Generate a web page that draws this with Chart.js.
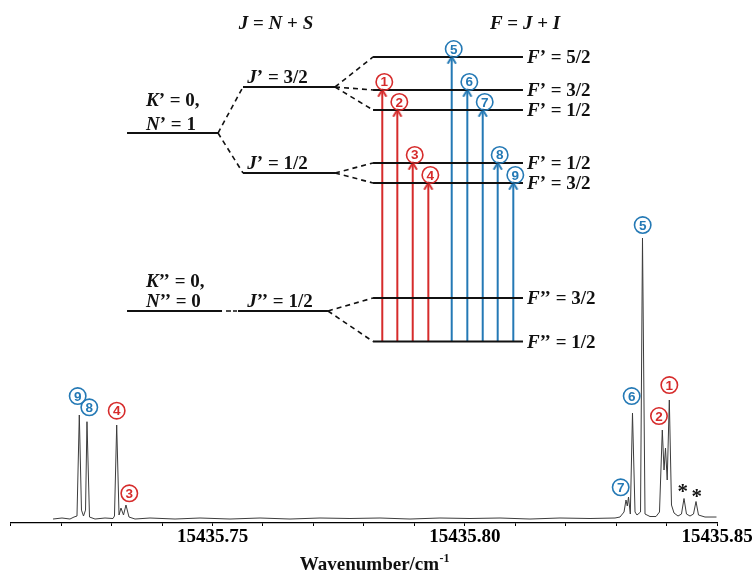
<!DOCTYPE html>
<html><head><meta charset="utf-8">
<script src="https://cdn.jsdelivr.net/npm/chart.js@4.4.1/dist/chart.umd.min.js"></script>
<style>html,body{margin:0;padding:0;background:#fff}</style>
</head><body>
<canvas id="c" width="756" height="575"></canvas>
<script>
// ---------------- DATA ----------------
// Spectrum (wavenumber / cm-1, relative intensity; strongest line = 100)
const wavenumbers = [
  15435.71839,15435.72017,15435.72175,15435.72255,15435.72314,15435.72360,15435.72403,15435.72443,15435.72483,15435.72512,15435.72562,
  15435.72671,15435.72869,15435.73028,15435.73057,15435.73101,15435.73147,15435.73186,15435.73236,15435.73285,15435.73345,15435.73464,
  15435.73761,15435.74257,15435.74752,15435.75347,15435.75942,15435.76536,15435.77131,15435.77725,15435.78320,15435.78915,15435.79509,
  15435.80104,15435.80699,15435.81293,15435.81888,15435.82483,15435.82978,15435.83077,
  15435.83157,15435.83196,15435.83222,15435.83246,15435.83282,15435.83325,15435.83375,15435.83414,15435.83484,15435.83523,15435.83573,
  15435.83672,15435.83791,15435.83860,15435.83916,15435.83950,15435.83979,15435.84013,15435.84055,15435.84098,15435.84148,15435.84227,
  15435.84296,15435.84346,15435.84395,15435.84465,15435.84534,15435.84584,15435.84633,15435.84762,15435.84990];
const intensities = [
  -0.18,0.18,-0.18,0.53,0.89,36.90,3.0,0.89,3.0,34.51,0.53,
  -0.18,0.18,0,0.89,33.33,1.25,3.74,1.25,4.81,0.53,-0.18,
  0.18,-0.18,0.18,-0.18,0.18,-0.18,0.18,0,0.18,-0.18,0.18,
  0,0.18,-0.18,0.18,0,0.18,0.53,
  2.32,6.60,4.46,7.66,1.60,37.61,2.32,1.25,2.32,100,1.60,
  0.71,0.71,2.32,31.55,17.29,25.13,13.73,42.25,4.81,1.96,0.89,
  1.60,7.13,1.60,0.89,1.60,6.06,1.25,0.53,0.53];

// Line assignments shown on the spectrum
const specLabelNum = [9, 8, 4, 3, 5, 6, 1, 2, 7];
const specLabelWn  = [15435.72328,15435.72558,15435.73101,15435.73351,15435.83527,15435.83309,15435.84055,15435.83850,15435.83091];
const specLabelInt = [43.67,39.64,38.43,8.98,104.63,43.67,47.59,36.54,11.12];
const starWn  = [15435.84320, 15435.84598];
const starInt = [10.77, 8.98];

// Axis
const xMin = 15435.71, xMax = 15435.85, xStep = 0.01;
const tickLabels = ['15435.75', '15435.80', '15435.85'];

// Energy level diagram (schematic energies, arbitrary units)
const nLabelsTop    = ['{K}’ = 0,', '{K}’’ = 0,'];
const nLabelsBottom = ['{N}’ = 1',  '{N}’’ = 0'];
const nEnergies     = [76.02, 41.33];
const jLabels   = ['{J}’ = 3/2', '{J}’ = 1/2', '{J}’’ = 1/2'];
const jEnergies = [84.99, 68.23, 41.33];
const upperLabels   = ['{F}’ = 5/2', '{F}’ = 3/2', '{F}’ = 1/2', '{F}’ = 1/2', '{F}’ = 3/2'];
const upperEnergies = [90.84, 84.41, 80.51, 70.18, 66.28];
const upperParentJ  = [0, 0, 0, 1, 1];
const lowerLabels   = ['{F}’’ = 3/2', '{F}’’ = 1/2'];
const lowerEnergies = [43.86, 35.38];
const transitionNum   = [1, 2, 3, 4, 5, 6, 7, 8, 9];
const transitionUpper = [1, 2, 3, 4, 0, 1, 2, 3, 4];
const transitionLower = [1, 1, 1, 1, 1, 1, 1, 1, 1];

// ---------------- LAYOUT / STYLE ----------------
const RED = '#d62b2b', BLUE = '#2479b5', INK = '#111';
const SERIF = '"Liberation Serif","Times New Roman",serif';
const colN  = [16.47, 29.35];   // N' level
const colN0 = [16.47, 29.92];   // N'' level
const gapDash = [30.48, 32.04];
const colJ  = [32.89, 45.92];   // J' levels
const colJ0 = [32.18, 44.92];   // J'' level
const colF  = [51.30, 72.53];   // F levels
const transitionPos = [52.61,54.74,56.92,59.13,62.44,64.65,66.83,68.95,71.16];
const colorOf = n => (n <= 4 ? RED : BLUE);

function seg(x1, y1, x2, y2, extra) {
  return Object.assign({
    data: [{x: x1, y: y1}, {x: x2, y: y2}],
    xAxisID: 'dx', yAxisID: 'dy',
    borderColor: INK, borderWidth: 1.8, pointRadius: 0, fill: false, tension: 0
  }, extra || {});
}
function chevron(color) {
  const c = document.createElement('canvas');
  c.width = 12; c.height = 16;
  const g = c.getContext('2d');
  g.strokeStyle = color; g.lineWidth = 2; g.lineCap = 'round'; g.lineJoin = 'miter';
  g.beginPath(); g.moveTo(2.3, 14); g.lineTo(6, 8); g.lineTo(9.7, 14); g.stroke();
  return c;
}
const heads = {r: chevron(RED), b: chevron(BLUE)};

const datasets = [];
datasets.push({
  data: wavenumbers.map((w, i) => ({x: w, y: intensities[i]})),
  xAxisID: 'x', yAxisID: 'y', borderColor: '#3c3c3c', borderWidth: 1, pointRadius: 0, tension: 0, fill: false
});
const dash = {borderDash: [5, 4], borderWidth: 1.6};
// N levels
datasets.push(seg(colN[0], nEnergies[0], colN[1], nEnergies[0]));
datasets.push(seg(colN0[0], nEnergies[1], colN0[1], nEnergies[1]));
datasets.push(seg(gapDash[0], nEnergies[1], gapDash[1], nEnergies[1], {borderDash: [5, 2], borderWidth: 1.6}));
// J levels
datasets.push(seg(colJ[0], jEnergies[0], colJ[1], jEnergies[0]));
datasets.push(seg(colJ[0], jEnergies[1], colJ[1], jEnergies[1]));
datasets.push(seg(colJ0[0], jEnergies[2], colJ0[1], jEnergies[2]));
datasets.push(seg(colN[1], nEnergies[0], colJ[0], jEnergies[0], dash));
datasets.push(seg(colN[1], nEnergies[0], colJ[0], jEnergies[1], dash));
// F levels
upperEnergies.forEach((e, i) => {
  datasets.push(seg(colF[0], e, colF[1], e));
  datasets.push(seg(colJ[1], jEnergies[upperParentJ[i]], colF[0], e, dash));
});
lowerEnergies.forEach(e => {
  datasets.push(seg(colF[0], e, colF[1], e));
  datasets.push(seg(colJ0[1], jEnergies[2], colF[0], e, dash));
});
// Transitions
transitionNum.forEach((n, i) => {
  const col = colorOf(n);
  datasets.push(seg(transitionPos[i], lowerEnergies[transitionLower[i]], transitionPos[i], upperEnergies[transitionUpper[i]], {
    borderColor: col, borderWidth: 2,
    pointRadius: c => (c.dataIndex === 1 ? 6 : 0),
    pointStyle: n <= 4 ? heads.r : heads.b
  }));
});

function rich(ctx, str, x, y, align, size) {
  const parts = str.split(/[{}]/);
  const fonts = parts.map((p, i) => (i % 2 ? 'italic bold ' : 'bold ') + size + 'px ' + SERIF);
  let w = 0;
  parts.forEach((p, i) => { ctx.font = fonts[i]; w += ctx.measureText(p).width; });
  let cx = align === 'center' ? x - w / 2 : x;
  ctx.textAlign = 'left'; ctx.textBaseline = 'middle';
  parts.forEach((p, i) => { if (!p) return; ctx.font = fonts[i]; ctx.fillText(p, cx, y); cx += ctx.measureText(p).width; });
}
function circ(ctx, n, x, y, color) {
  ctx.beginPath(); ctx.arc(x, y, 8.2, 0, Math.PI * 2);
  ctx.strokeStyle = color; ctx.lineWidth = 1.6; ctx.stroke();
  ctx.fillStyle = color; ctx.font = 'bold 13.5px "Liberation Sans",Arial,sans-serif';
  ctx.textAlign = 'center'; ctx.textBaseline = 'middle';
  ctx.fillText(String(n), x, y + 0.8);
}

const overlay = {
  id: 'overlay',
  afterDatasetsDraw(chart) {
    const {ctx, scales, chartArea} = chart;
    const X = v => scales.dx.getPixelForValue(v), Y = v => scales.dy.getPixelForValue(v);
    const SX = v => scales.x.getPixelForValue(v), SY = v => scales.y.getPixelForValue(v);
    ctx.save();
    ctx.fillStyle = INK;
    rich(ctx, '{J} = {N} + {S}', X(37.56), Y(97.27), 'center', 19);
    rich(ctx, '{F} = {J} + {I}', X(72.82), Y(97.27), 'center', 19);
    // N / K labels
    const kOff = [-32, -29], nOff = [-8, -9];
    nEnergies.forEach((e, i) => {
      rich(ctx, nLabelsTop[i], X(19.16), Y(e) + kOff[i], 'left', 19);
      rich(ctx, nLabelsBottom[i], X(19.16), Y(e) + nOff[i], 'left', 19);
    });
    jEnergies.forEach((e, i) => rich(ctx, jLabels[i], X(33.5), Y(e) - 9, 'left', 19));
    upperEnergies.forEach((e, i) => rich(ctx, upperLabels[i], X(73.1), Y(e) + 1.5, 'left', 19));
    lowerEnergies.forEach((e, i) => rich(ctx, lowerLabels[i], X(73.1), Y(e) + 1.5, 'left', 19));
    // transition numbers
    transitionNum.forEach((n, i) => {
      circ(ctx, n, X(transitionPos[i]) + 2, Y(upperEnergies[transitionUpper[i]]) - 8, colorOf(n));
    });
    // spectrum assignments
    specLabelNum.forEach((n, i) => circ(ctx, n, SX(specLabelWn[i]), SY(specLabelInt[i]), colorOf(n)));
    ctx.fillStyle = INK; ctx.font = 'bold 21px ' + SERIF; ctx.textAlign = 'center'; ctx.textBaseline = 'middle';
    starWn.forEach((w, i) => ctx.fillText('*', SX(w), SY(starInt[i]) + 4));
    // axis title
    const tx = chartArea.left + 0.515 * (chartArea.right - chartArea.left), ty = 565;
    ctx.font = 'bold 19px ' + SERIF;
    const w1 = ctx.measureText('Wavenumber/cm').width;
    ctx.font = 'bold 12px ' + SERIF;
    const w2 = ctx.measureText('-1').width;
    const sx = tx - (w1 + w2) / 2;
    ctx.textAlign = 'left';
    ctx.font = 'bold 19px ' + SERIF; ctx.fillText('Wavenumber/cm', sx, ty);
    ctx.font = 'bold 12px ' + SERIF; ctx.fillText('-1', sx + w1 + 0.5, ty - 6);
    ctx.restore();
  }
};

new Chart(document.getElementById('c'), {
  type: 'line',
  data: {datasets},
  plugins: [overlay],
  options: {
    responsive: false, animation: false,
    layout: {padding: {left: 10.7, right: 39, top: 10, bottom: 0}},
    plugins: {legend: {display: false}, tooltip: {enabled: false}},
    elements: {point: {radius: 0, hitRadius: 0}, line: {tension: 0}},
    events: [],
    scales: {
      x: {
        type: 'linear', min: xMin, max: xMax,
        afterFit: s => { s.height = 52; },
        ticks: {
          stepSize: xStep, autoSkip: false, maxRotation: 0, padding: 0, color: '#000',
          font: {family: SERIF, size: 19, weight: 'bold'},
          callback: v => { const k = Math.round(v * 100); const t = (k / 100).toFixed(2); return tickLabels.includes(t) ? t : ''; }
        },
        grid: {display: true, drawOnChartArea: false, drawTicks: true, tickLength: 3, color: '#000', lineWidth: 1},
        border: {display: true, color: '#000', width: 1.3}
      },
      y: {type: 'linear', display: false, min: -1.6, max: 181.3},
      dx: {type: 'linear', axis: 'x', display: false, min: 0, max: 100},
      dy: {type: 'linear', axis: 'y', display: false, min: 0, max: 100}
    }
  }
});
</script>
</body></html>
